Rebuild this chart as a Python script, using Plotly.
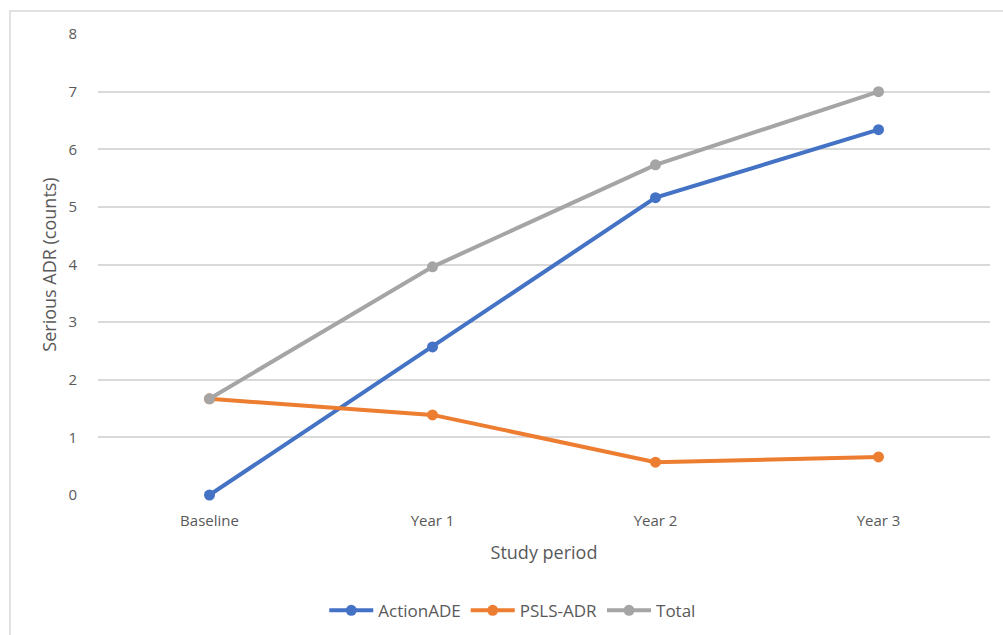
import plotly.graph_objects as go

# Study periods and serious ADR counts per reporting source
periods = ["Baseline", "Year 1", "Year 2", "Year 3"]
action_ade = [0.0, 2.57, 5.16, 6.34]
psls_adr = [1.67, 1.39, 0.57, 0.66]
total = [1.67, 3.96, 5.73, 7.0]

series = [
    ("ActionADE", action_ade, "#4472C4"),
    ("PSLS-ADR", psls_adr, "#ED7D31"),
    ("Total", total, "#A5A5A5"),
]

FONT = "'Open Sans', Lato, sans-serif"
TEXT_GRAY = "#595959"

fig = go.Figure()
for name, vals, color in series:
    fig.add_trace(go.Scatter(
        x=periods, y=vals, name=name, mode="lines+markers",
        line=dict(color=color, width=4),
        marker=dict(color=color, size=11),
        cliponaxis=False,
    ))

fig.update_layout(
    width=1003, height=635,
    margin=dict(l=98, r=13, t=34, b=140, autoexpand=False),
    paper_bgcolor="white", plot_bgcolor="white",
    font=dict(family=FONT, size=15, color=TEXT_GRAY),
    showlegend=True,
    legend=dict(
        orientation="h", x=0.465, xanchor="center", y=-0.212, yanchor="top",
        font=dict(family=FONT, size=17, color=TEXT_GRAY),
        traceorder="normal", itemwidth=44,
    ),
    xaxis=dict(
        type="category", range=[-0.5, 3.5], automargin=False,
        showgrid=False, zeroline=False, showline=False,
        ticks="", ticklabelstandoff=15,
        tickfont=dict(size=15, color=TEXT_GRAY),
        title=dict(text="Study period", standoff=17,
                   font=dict(size=18, color=TEXT_GRAY)),
    ),
    yaxis=dict(
        range=[0, 8], dtick=1, tick0=0, automargin=False,
        showgrid=True, gridcolor="#D9D9D9", gridwidth=1.5,
        zeroline=False, showline=False, ticks="",
        ticklabelstandoff=20,
        tickfont=dict(size=15, color=TEXT_GRAY),
        title=dict(text="Serious ADR (counts)", standoff=7,
                   font=dict(size=18, color=TEXT_GRAY)),
    ),
    shapes=[dict(
        type="rect", xref="paper", yref="paper",
        x0=-0.0987, x1=1.1, y0=-0.4, y1=1.0499,
        line=dict(color="#D9D9D9", width=1.5), fillcolor="rgba(0,0,0,0)",
        layer="below",
    )],
)

fig.write_html("out.html")
